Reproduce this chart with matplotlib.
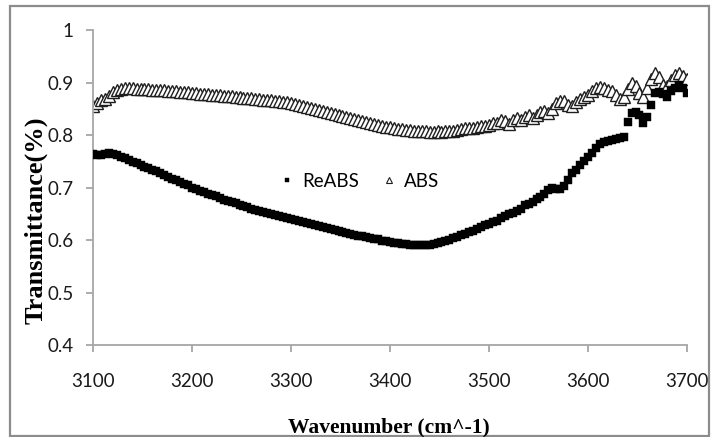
import matplotlib
matplotlib.use("Agg")
import matplotlib.pyplot as plt
from matplotlib.patches import Rectangle
from matplotlib.ticker import FuncFormatter

# wavenumber grid (cm^-1), every 4 units
WAVENUMBER = [
    3100, 3104, 3108, 3112, 3116, 3120, 3124, 3128, 3132, 3136,
    3140, 3144, 3148, 3152, 3156, 3160, 3164, 3168, 3172, 3176,
    3180, 3184, 3188, 3192, 3196, 3200, 3204, 3208, 3212, 3216,
    3220, 3224, 3228, 3232, 3236, 3240, 3244, 3248, 3252, 3256,
    3260, 3264, 3268, 3272, 3276, 3280, 3284, 3288, 3292, 3296,
    3300, 3304, 3308, 3312, 3316, 3320, 3324, 3328, 3332, 3336,
    3340, 3344, 3348, 3352, 3356, 3360, 3364, 3368, 3372, 3376,
    3380, 3384, 3388, 3392, 3396, 3400, 3404, 3408, 3412, 3416,
    3420, 3424, 3428, 3432, 3436, 3440, 3444, 3448, 3452, 3456,
    3460, 3464, 3468, 3472, 3476, 3480, 3484, 3488, 3492, 3496,
    3500, 3504, 3508, 3512, 3516, 3520, 3524, 3528, 3532, 3536,
    3540, 3544, 3548, 3552, 3556, 3560, 3564, 3568, 3572, 3576,
    3580, 3584, 3588, 3592, 3596, 3600, 3604, 3608, 3612, 3616,
    3620, 3624, 3628, 3632, 3636, 3640, 3644, 3648, 3652, 3656,
    3660, 3664, 3668, 3672, 3676, 3680, 3684, 3688, 3692, 3696,
    3700,
]

REABS = [
    0.763, 0.762, 0.761, 0.764, 0.765, 0.764, 0.762, 0.759, 0.756, 0.752,
    0.749, 0.746, 0.743, 0.740, 0.737, 0.734, 0.731, 0.727, 0.724, 0.720,
    0.717, 0.714, 0.711, 0.707, 0.704, 0.700, 0.697, 0.694, 0.691, 0.688,
    0.686, 0.683, 0.680, 0.677, 0.675, 0.672, 0.670, 0.667, 0.665, 0.662,
    0.660, 0.658, 0.656, 0.654, 0.652, 0.650, 0.648, 0.646, 0.644, 0.642,
    0.640, 0.638, 0.637, 0.635, 0.633, 0.631, 0.629, 0.627, 0.625, 0.623,
    0.621, 0.619, 0.617, 0.616, 0.614, 0.612, 0.610, 0.608, 0.607, 0.605,
    0.604, 0.602, 0.601, 0.599, 0.598, 0.596, 0.595, 0.594, 0.593, 0.592,
    0.591, 0.591, 0.590, 0.590, 0.590, 0.591, 0.592, 0.594, 0.596, 0.598,
    0.600, 0.603, 0.606, 0.609, 0.612, 0.615, 0.618, 0.621, 0.624, 0.628,
    0.631, 0.634, 0.636, 0.641, 0.646, 0.650, 0.652, 0.655, 0.660, 0.666,
    0.668, 0.672, 0.678, 0.682, 0.687, 0.696, 0.700, 0.698, 0.697, 0.703,
    0.715, 0.727, 0.734, 0.742, 0.750, 0.758, 0.766, 0.776, 0.783, 0.786,
    0.789, 0.790, 0.792, 0.794, 0.796, 0.825, 0.842, 0.844, 0.838, 0.822,
    0.834, 0.857, 0.880, 0.882, 0.878, 0.872, 0.884, 0.890, 0.895, 0.890,
    0.880,
]

ABS = [
    0.855, 0.861, 0.866, 0.868, 0.874, 0.881, 0.885, 0.888, 0.889, 0.890,
    0.889, 0.888, 0.888, 0.887, 0.887, 0.886, 0.886, 0.885, 0.885, 0.884,
    0.884, 0.883, 0.882, 0.882, 0.881, 0.880, 0.880, 0.879, 0.878, 0.878,
    0.877, 0.876, 0.876, 0.875, 0.874, 0.874, 0.873, 0.872, 0.871, 0.870,
    0.870, 0.869, 0.868, 0.867, 0.866, 0.866, 0.865, 0.864, 0.863, 0.862,
    0.861, 0.859, 0.858, 0.856, 0.854, 0.852, 0.850, 0.848, 0.846, 0.844,
    0.842, 0.840, 0.838, 0.836, 0.834, 0.832, 0.830, 0.829, 0.827, 0.825,
    0.823, 0.821, 0.820, 0.818, 0.816, 0.815, 0.813, 0.812, 0.811, 0.810,
    0.809, 0.808, 0.808, 0.807, 0.807, 0.806, 0.806, 0.807, 0.806, 0.807,
    0.808, 0.808, 0.810, 0.811, 0.813, 0.814, 0.813, 0.816, 0.818, 0.817,
    0.820, 0.823, 0.822, 0.828, 0.826, 0.821, 0.829, 0.833, 0.828, 0.834,
    0.838, 0.833, 0.838, 0.843, 0.845, 0.841, 0.850, 0.861, 0.865, 0.864,
    0.858, 0.856, 0.862, 0.868, 0.872, 0.876, 0.884, 0.889, 0.891, 0.889,
    0.886, 0.883, 0.876, 0.868, 0.872, 0.888, 0.899, 0.893, 0.880, 0.872,
    0.890, 0.906, 0.918, 0.911, 0.896, 0.893, 0.905, 0.914, 0.918, 0.912,
    0.906,
]

X_TICKS = [3100, 3200, 3300, 3400, 3500, 3600, 3700]
Y_TICKS = [0.4, 0.5, 0.6, 0.7, 0.8, 0.9, 1.0]

AXIS_GREY = "#A6A6A6"
TICK_FONT = "Lato"
LABEL_FONT = "Liberation Serif"

fig = plt.figure(figsize=(7.11, 4.37), dpi=100)
ax = fig.add_axes([93 / 711, 92 / 437, 594 / 711, 315 / 437])

ax.plot(WAVENUMBER, ABS, linestyle="none", marker="^", markersize=8,
        markerfacecolor="white", markeredgecolor="#1e1e1e", markeredgewidth=1.0,
        label="ABS", zorder=2)
ax.plot(WAVENUMBER, REABS, linestyle="none", marker="s", markersize=5.4,
        markerfacecolor="black", markeredgecolor="black", markeredgewidth=0.3,
        label="ReABS", zorder=3)

ax.set_xlim(3100, 3700)
ax.set_ylim(0.4, 1.0)
ax.set_xticks(X_TICKS)
ax.set_yticks(Y_TICKS)
ax.yaxis.set_major_formatter(FuncFormatter(lambda v, _: f"{v:g}"))

for side in ["top", "right"]:
    ax.spines[side].set_visible(False)
for side in ["left", "bottom"]:
    ax.spines[side].set_color(AXIS_GREY)
    ax.spines[side].set_linewidth(1.3)

ax.tick_params(axis="both", direction="out", length=5, width=1.3, color=AXIS_GREY,
               labelsize=13.5, labelcolor="#1a1a1a")
ax.tick_params(axis="x", pad=15)
ax.tick_params(axis="y", pad=9)
for lbl in ax.get_xticklabels() + ax.get_yticklabels():
    lbl.set_fontfamily(TICK_FONT)

handles, labels = ax.get_legend_handles_labels()
leg = ax.legend(handles[::-1], labels[::-1], ncol=2, loc="center",
                bbox_to_anchor=(0.448, 0.52), frameon=False,
                handlelength=0.8, handletextpad=0.4, columnspacing=1.2,
                prop={"family": TICK_FONT, "size": 13.5})
leg.legend_handles[0].set_markersize(3.2)
leg.legend_handles[1].set_markersize(5)
leg.legend_handles[1].set_markeredgewidth(0.8)

fig.text(36 / 711, 1 - 220 / 437, "Transmittance(%)", rotation=90,
         ha="center", va="center", fontfamily=LABEL_FONT, fontweight="bold",
         fontsize=19)
fig.text(389 / 711, 1 - 427 / 437, "Wavenumber (cm^-1)",
         ha="center", va="center", fontfamily=LABEL_FONT, fontweight="bold",
         fontsize=15.5)

# outer chart border
fig.patches.append(Rectangle((10 / 711, 1 / 437), 699 / 711, 430 / 437,
                             transform=fig.transFigure, fill=False,
                             edgecolor="#8C8C8C", linewidth=1.6))

fig.savefig("out.png", dpi=100, facecolor="white")
